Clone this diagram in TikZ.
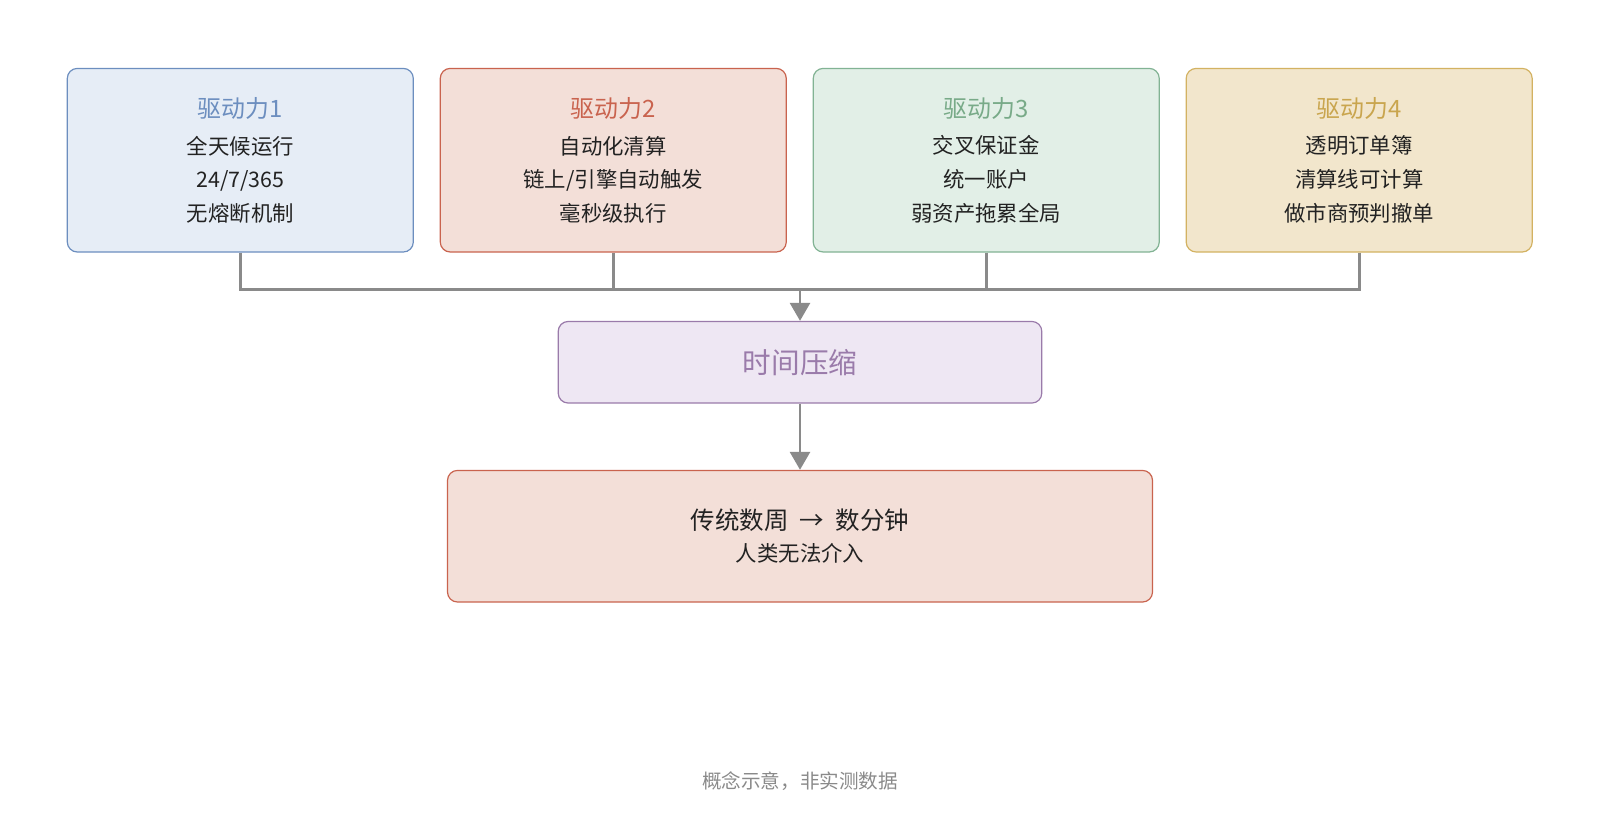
\documentclass[tikz,border=0pt]{standalone}
\usepackage{fontspec}
\setmainfont{Noto Sans CJK SC}
\usetikzlibrary{arrows.meta}

\definecolor{blueline}{HTML}{6C8EBF}
\definecolor{bluefill}{HTML}{E6EDF6}
\definecolor{redline}{HTML}{C9634E}
\definecolor{redfill}{HTML}{F3DFD8}
\definecolor{greenline}{HTML}{82B394}
\definecolor{greenfill}{HTML}{E2EFE7}
\definecolor{greentext}{HTML}{78AA88}
\definecolor{yellowline}{HTML}{D3B262}
\definecolor{yellowfill}{HTML}{F2E6CC}
\definecolor{yellowtext}{HTML}{C9A54E}
\definecolor{purpleline}{HTML}{9A7BAA}
\definecolor{purplefill}{HTML}{EEE7F3}
\definecolor{linkgray}{HTML}{8A8A8A}
\definecolor{inkgray}{HTML}{222222}

\tikzset{
  driverbox/.style={draw, rounded corners=5pt, line width=0.6pt, align=center,
    minimum width=173pt, minimum height=91.8pt, text=inkgray,
    font=\fontsize{10.7}{16.8}\selectfont},
  link/.style={draw=linkgray, line width=1.4pt},
  linkarrow/.style={link, -{Triangle[width=10pt,length=9pt]}}
}

\begin{document}
\begin{tikzpicture}[x=0.5102pt, y=-0.5102pt]

\useasboundingbox (0,0) rectangle (1568,802.6);

% Four driving forces
\node [driverbox, draw=blueline, fill=bluefill] (drive1) at (235.5,157)
  {{\fontsize{11.95}{14}\selectfont\color{blueline}驱动力1}\\[1.5pt]全天候运行\\24/7/365\\无熔断机制};
\node [driverbox, draw=redline, fill=redfill] (drive2) at (601,157)
  {{\fontsize{11.95}{14}\selectfont\color{redline}驱动力2}\\[1.5pt]自动化清算\\链上/引擎自动触发\\毫秒级执行};
\node [driverbox, draw=greenline, fill=greenfill] (drive3) at (966.5,157)
  {{\fontsize{11.95}{14}\selectfont\color{greentext}驱动力3}\\[1.5pt]交叉保证金\\统一账户\\弱资产拖累全局};
\node [driverbox, draw=yellowline, fill=yellowfill] (drive4) at (1332,157)
  {{\fontsize{11.95}{14}\selectfont\color{yellowtext}驱动力4}\\[1.5pt]透明订单簿\\清算线可计算\\做市商预判撤单};

% Time compression
\node [draw=purpleline, fill=purplefill, rounded corners=5pt, line width=0.6pt,
  minimum width=241.8pt, minimum height=40.8pt, text=purpleline,
  font=\fontsize{14.3}{16}\selectfont] (squeeze) at (784,355) {时间压缩};

% Result
\node [draw=redline, fill=redfill, rounded corners=5pt, line width=0.6pt, align=center,
  minimum width=352.5pt, minimum height=65.8pt, text=inkgray] (result) at (784,525.5)
  {{\fontsize{12.25}{14}\selectfont 传统数周\hspace{0.45em}→\hspace{0.45em}数分钟}\\[4pt]{\fontsize{10.7}{13}\selectfont 人类无法介入}};

% Merge lines into one bus
\coordinate (bus) at (784,284);
\foreach \i in {1,...,4}
  \draw [link] (drive\i.south) |- (bus);
\draw [linkarrow] (bus) -- (squeeze.north);
\draw [linkarrow] (squeeze.south) -- (result.north);

% Footnote
\node [text=linkgray, font=\fontsize{9.8}{12}\selectfont] (note) at (784,766) {概念示意，非实测数据};

\end{tikzpicture}
\end{document}
